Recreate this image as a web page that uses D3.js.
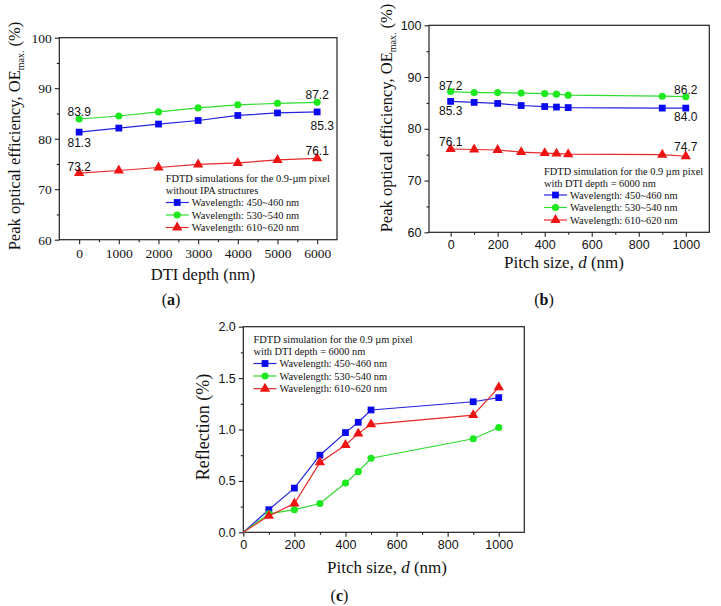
<!DOCTYPE html>
<html>
<head>
<meta charset="utf-8">
<script src="https://cdn.jsdelivr.net/npm/d3@7"></script>
<style>
  body { margin: 0; background: #fff; }
  svg { display: block; }
</style>
</head>
<body>
<div id="chart"></div>
<script>
const width = 721;
const height = 606;

const serif = "'Liberation Serif', 'Times New Roman', serif";
const sans = "'Liberation Sans', Arial, sans-serif";

// data
const dtiDepth = [0, 1000, 2000, 3000, 4000, 5000, 6000];
const oeDtiBlue = [81.3, 82.1, 82.9, 83.6, 84.6, 85.1, 85.3];
const oeDtiGreen = [83.9, 84.5, 85.3, 86.1, 86.7, 87.0, 87.2];
const oeDtiRed = [73.2, 73.7, 74.3, 74.9, 75.2, 75.8, 76.1];

const pitchSize = [0, 100, 200, 300, 400, 450, 500, 900, 1000];
const oePitchBlue = [85.3, 85.1, 84.9, 84.5, 84.3, 84.2, 84.1, 84.0, 84.0];
const oePitchGreen = [87.2, 87.0, 87.0, 86.9, 86.8, 86.7, 86.5, 86.3, 86.2];
const oePitchRed = [76.1, 76.0, 75.9, 75.5, 75.3, 75.2, 75.1, 75.0, 74.7];

const reflBlue = [0, 0.22, 0.43, 0.75, 0.97, 1.07, 1.19, 1.27, 1.31];
const reflGreen = [0, 0.18, 0.22, 0.28, 0.48, 0.59, 0.72, 0.91, 1.02];
const reflRed = [0, 0.16, 0.28, 0.68, 0.85, 0.96, 1.05, 1.14, 1.41];

const seriesNames = ["Wavelength: 450~460 nm", "Wavelength: 530~540 nm", "Wavelength: 610~620 nm"];
const oeTicks = [60, 70, 80, 90, 100];
const oeMinor = [65, 75, 85, 95];
const dtiTicks = [0, 1000, 2000, 3000, 4000, 5000, 6000];
const dtiMinor = [500, 1500, 2500, 3500, 4500, 5500];
const pitchTicks = [0, 200, 400, 600, 800, 1000];
const pitchMinor = [100, 300, 500, 700, 900];
const reflTicks = [0, 0.5, 1.0, 1.5, 2.0];
const reflMinor = [0.25, 0.75, 1.25, 1.75];

const lineColors = ["#2323e0", "#2fdc2f", "#e82828"];
const markColors = ["#0a0af0", "#1ee81e", "#ee1414"];
const shapes = [d3.symbolSquare, d3.symbolCircle, d3.symbolTriangle];
const shapeSizes = [46, 40, 46];

const svg = d3.select("#chart")
  .append("svg")
  .attr("width", width)
  .attr("height", height);

function drawPanel(o) {
  const x = d3.scaleLinear().domain(o.xDomain).range([o.left, o.right]);
  const y = d3.scaleLinear().domain(o.yDomain).range([o.bottom, o.top]);
  const g = svg.append("g");

  // minor ticks
  g.append("g")
    .attr("transform", `translate(0,${o.bottom})`)
    .call(d3.axisBottom(x).tickValues(o.xMinor).tickSize(2.5).tickFormat(""));
  g.append("g")
    .attr("transform", `translate(${o.left},0)`)
    .call(d3.axisLeft(y).tickValues(o.yMinor).tickSize(2.5).tickFormat(""));

  // major ticks
  g.append("g")
    .attr("transform", `translate(0,${o.bottom})`)
    .call(d3.axisBottom(x).tickValues(o.xTicks).tickSize(4.5).tickPadding(o.xPad).tickFormat(d3.format("d")));
  g.append("g")
    .attr("transform", `translate(${o.left},0)`)
    .call(d3.axisLeft(y).tickValues(o.yTicks).tickSize(4.5).tickPadding(3).tickFormat(o.yFormat));

  g.selectAll(".domain").remove();
  g.selectAll(".tick line").attr("stroke", "#222").attr("stroke-width", 1.1);
  g.selectAll(".tick text")
    .attr("fill", "#111")
    .style("font-family", o.tickFont)
    .style("font-size", o.tickSize + "px");

  // frame
  g.append("rect")
    .attr("x", o.left)
    .attr("y", o.top)
    .attr("width", o.right - o.left)
    .attr("height", o.bottom - o.top)
    .attr("fill", "none")
    .attr("stroke", "#222")
    .attr("stroke-width", 1.2);

  const line = d3.line()
    .x(d => x(d[0]))
    .y(d => y(d[1]));

  o.series.forEach((vals, i) => {
    const pts = o.xs.map((xv, j) => [xv, vals[j]]);
    g.append("path")
      .datum(pts)
      .attr("d", line)
      .attr("fill", "none")
      .attr("stroke", lineColors[i])
      .attr("stroke-width", 1.2);
    g.selectAll(null)
      .data(pts.filter(d => !(o.skipOrigin && d[0] === 0)))
      .enter()
      .append("path")
      .attr("d", d3.symbol().type(shapes[i]).size(shapeSizes[i]))
      .attr("transform", d => `translate(${x(d[0])},${y(d[1])})`)
      .attr("fill", markColors[i]);
  });

  // first / last value labels
  (o.notes || []).forEach(n => {
    const vals = o.series[n.s];
    const idx = n.end ? vals.length - 1 : 0;
    g.append("text")
      .attr("x", x(o.xs[idx]) + (n.dx || 0))
      .attr("y", y(vals[idx]) + n.dy)
      .attr("text-anchor", "middle")
      .style("font-family", sans)
      .style("font-size", "12px")
      .attr("fill", "#111")
      .text(d3.format(".1f")(vals[idx]));
  });

  // legend
  const lg = o.legend;
  g.selectAll(null)
    .data(lg.title)
    .enter()
    .append("text")
    .attr("x", lg.x)
    .attr("y", (d, i) => lg.titleY[i] + 3.6)
    .style("font-family", serif)
    .style("font-size", "10.4px")
    .attr("fill", "#111")
    .text(d => d);
  seriesNames.forEach((name, i) => {
    const ry = lg.rowY[i];
    g.append("line")
      .attr("x1", lg.x).attr("x2", lg.x + 23)
      .attr("y1", ry).attr("y2", ry)
      .attr("stroke", lineColors[i])
      .attr("stroke-width", 1.2);
    g.append("path")
      .attr("d", d3.symbol().type(shapes[i]).size(shapeSizes[i]))
      .attr("transform", `translate(${lg.x + 11.5},${ry})`)
      .attr("fill", markColors[i]);
    g.append("text")
      .attr("x", lg.x + 26)
      .attr("y", ry + 3.6)
      .style("font-family", serif)
      .style("font-size", "10.4px")
      .attr("fill", "#111")
      .text(name);
  });

  // axis titles
  const xt = g.append("text")
    .attr("x", o.xTitle.x)
    .attr("y", o.xTitle.y)
    .attr("text-anchor", "middle")
    .style("font-family", serif)
    .style("font-size", o.xTitle.size + "px")
    .attr("fill", "#111");
  o.xTitle.parts.forEach(p => {
    xt.append("tspan").style("font-style", p.italic ? "italic" : "normal").text(p.t);
  });

  const yt = g.append("text")
    .attr("transform", `translate(${o.yTitle.x},${o.yTitle.y}) rotate(-90)`)
    .attr("text-anchor", "middle")
    .style("font-family", serif)
    .style("font-size", o.yTitle.size + "px")
    .attr("fill", "#111");
  if (o.yTitle.sub) {
    yt.append("tspan").text("Peak optical efficiency, OE");
    yt.append("tspan").attr("dy", 4).style("font-size", "10px").text("max.");
    yt.append("tspan").attr("dy", -4).text(" (%)");
  } else {
    yt.text(o.yTitle.text);
  }

  // panel label
  const pl = g.append("text")
    .attr("x", o.label.x)
    .attr("y", o.label.y)
    .attr("text-anchor", "middle")
    .style("font-family", serif)
    .style("font-size", "16px")
    .attr("fill", "#111");
  pl.append("tspan").text("(");
  pl.append("tspan").style("font-weight", "bold").text(o.label.t);
  pl.append("tspan").text(")");
}

drawPanel({
  left: 59.3, right: 337, top: 37.7, bottom: 239.7,
  xDomain: [-500, 6500], yDomain: [60, 100],
  xTicks: dtiTicks, xMinor: dtiMinor, yTicks: oeTicks, yMinor: oeMinor, xPad: 4,
  yFormat: d3.format("d"), tickFont: serif, tickSize: 13.5,
  xs: dtiDepth, series: [oeDtiBlue, oeDtiGreen, oeDtiRed],
  notes: [
    { s: 1, end: false, dy: -3 }, { s: 0, end: false, dy: 14.5 }, { s: 2, end: false, dy: -2.5 },
    { s: 1, end: true, dy: -3.5 }, { s: 0, end: true, dy: 18.5, dx: 5 }, { s: 2, end: true, dy: -3.5 }
  ],
  legend: {
    x: 165.7,
    title: ["FDTD simulations for the 0.9-\u00b5m pixel", "without IPA structures"],
    titleY: [178, 190.5], rowY: [202.5, 215, 227.5]
  },
  xTitle: { x: 203, y: 280, size: 16.5, parts: [{ t: "DTI depth (nm)" }] },
  yTitle: { x: 20, y: 136, size: 16.5, sub: true },
  label: { x: 171, y: 305, t: "a" }
});

drawPanel({
  left: 429, right: 709.3, top: 25.3, bottom: 232.3,
  xDomain: [-92, 1100], yDomain: [60, 100],
  xTicks: pitchTicks, xMinor: pitchMinor, yTicks: oeTicks, yMinor: oeMinor, xPad: 3,
  yFormat: d3.format("d"), tickFont: sans, tickSize: 12.5,
  xs: pitchSize, series: [oePitchBlue, oePitchGreen, oePitchRed],
  notes: [
    { s: 1, end: false, dy: -1.5 }, { s: 0, end: false, dy: 13.5 }, { s: 2, end: false, dy: -2.5 },
    { s: 1, end: true, dy: -2.5 }, { s: 0, end: true, dy: 13 }, { s: 2, end: true, dy: -5 }
  ],
  legend: {
    x: 544,
    title: ["FDTD simulation for the 0.9 \u00b5m pixel", "with DTI depth = 6000 nm"],
    titleY: [171.7, 183.3], rowY: [195, 207.5, 220]
  },
  xTitle: { x: 564, y: 268, size: 17, parts: [{ t: "Pitch size, " }, { t: "d", italic: true }, { t: " (nm)" }] },
  yTitle: { x: 392, y: 118, size: 16.5, sub: true },
  label: { x: 544, y: 305, t: "b" }
});

drawPanel({
  left: 243.3, right: 524.3, top: 326.7, bottom: 532.3,
  xDomain: [0, 1100], yDomain: [0, 2],
  xTicks: pitchTicks, xMinor: pitchMinor, yTicks: reflTicks, yMinor: reflMinor, xPad: 3,
  yFormat: d3.format(".1f"), tickFont: sans, tickSize: 12.5,
  xs: pitchSize, series: [reflBlue, reflGreen, reflRed], skipOrigin: true,
  legend: {
    x: 253.5,
    title: ["FDTD simulation for the 0.9 \u00b5m pixel", "with DTI depth = 6000 nm"],
    titleY: [339, 351.5], rowY: [363.5, 376, 388.7]
  },
  xTitle: { x: 387, y: 573, size: 17, parts: [{ t: "Pitch size, " }, { t: "d", italic: true }, { t: " (nm)" }] },
  yTitle: { x: 209, y: 427, size: 18, text: "Reflection (%)" },
  label: { x: 339.5, y: 601, t: "c" }
});
</script>
</body>
</html>
